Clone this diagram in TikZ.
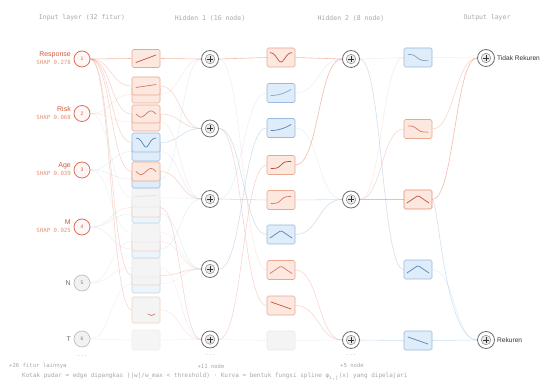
\documentclass[tikz,border=0pt]{standalone}
\usepackage{fontspec}
\setmainfont{Liberation Sans}
\newfontfamily\monofam{DejaVu Sans Mono}

% palette
\definecolor{ored}{HTML}{D5593B}
\definecolor{oshap}{HTML}{E59378}
\definecolor{oedge}{HTML}{E5876B}
\definecolor{bedge}{HTML}{8CB9E2}
\definecolor{ofill}{HTML}{FCE8DF}
\definecolor{odraw}{HTML}{E9A991}
\definecolor{bfill}{HTML}{DFECF9}
\definecolor{bdraw}{HTML}{98BADC}
\definecolor{ocurve}{HTML}{C4503A}
\definecolor{ocurvel}{HTML}{D47A62}
\definecolor{bcurve}{HTML}{5584B5}
\definecolor{gfill}{HTML}{F4F4F4}
\definecolor{gdraw}{HTML}{EAEAEA}
\definecolor{hdrgray}{HTML}{A8A8A8}
\definecolor{ringgray}{HTML}{6F6F6F}
\definecolor{txtdark}{HTML}{333333}

\tikzset{
  lbl/.style={inner sep=0pt, font=\fontsize{7}{8}\selectfont},
  shap/.style={inner sep=0pt, font=\monofam\fontsize{5.7}{6}\selectfont, text=oshap},
  hdr/.style={inner sep=0pt, font=\monofam\fontsize{6.5}{7}\selectfont, text=hdrgray},
  note/.style={inner sep=0pt, font=\monofam\fontsize{5.6}{6}\selectfont, text=hdrgray},
  dots/.style={inner sep=0pt, font=\monofam\fontsize{5.5}{6}\selectfont, text=black!30},
  inode/.style={circle, inner sep=0pt, minimum size=16pt, line width=0.8pt,
    draw=ored!85, fill=ored!4, text=ored, font=\fontsize{5}{5}\selectfont},
  gnode/.style={circle, inner sep=0pt, minimum size=16pt, line width=0.7pt,
    draw=black!25, fill=black!5, text=black!50, font=\fontsize{5}{5}\selectfont},
  hnode/.style={circle, inner sep=0pt, minimum size=17pt, line width=0.8pt,
    draw=ringgray, fill=white},
  kbox/.style={rectangle, rounded corners=1.5pt, inner sep=0pt,
    minimum width=28pt, minimum height=19pt, line width=0.6pt},
  obox/.style={kbox, draw=odraw, fill=ofill},
  bbox/.style={kbox, draw=bdraw, fill=bfill},
  fobox/.style={kbox, draw=odraw!55, fill=gfill},
  fbbox/.style={kbox, draw=bdraw!60, fill=bfill!55},
  fgbox/.style={kbox, draw=gdraw, fill=gfill},
  eoS/.style={draw=oedge, line width=0.6pt, draw opacity=0.55},
  eo/.style={draw=oedge, line width=0.55pt, draw opacity=0.34},
  eoF/.style={draw=oedge, line width=0.5pt, draw opacity=0.18},
  eb/.style={draw=bedge, line width=0.55pt, draw opacity=0.45},
  ebF/.style={draw=bedge, line width=0.5pt, draw opacity=0.22},
  eg/.style={draw=black!40, line width=0.5pt, draw opacity=0.13},
  kc/.style={line width=0.7pt, line cap=round, line join=round},
  % the summation mark inside a hidden/output node
  oplus/.pic={
    \fill[black!9] (0,0) circle (4.8pt);
    \draw[black!45, line width=0.5pt] (0,0) circle (4.8pt);
    \draw[black!80, line width=0.6pt] (-3,0) -- (3,0) (0,-3) -- (0,3);
  },
  % learned spline shapes, local box coordinates (y grows downward)
  crise/.pic={\draw[kc] (-10,4) -- (10,-3.5);},
  cslight/.pic={\draw[kc] (-10,1.5) -- (10,-1.5);},
  csine/.pic={\draw[kc] plot[smooth, domain=-10:10, samples=25] (\x,{-3*sin(\x*18)});},
  cdip/.pic={\draw[kc] plot[smooth, domain=-10:10, samples=25] (\x,{-4.5+9*exp(-(\x*\x)/22)});},
  cvalley/.pic={\draw[kc] plot[smooth, domain=-11:11, samples=25] (\x,{-5+9.5*exp(-(\x*\x)/30)});},
  csig/.pic={\draw[kc] plot[smooth, domain=-10:10, samples=25] (\x,{-3.5*tanh(\x/3.5)});},
  csigd/.pic={\draw[kc] plot[smooth, domain=-10:10, samples=25] (\x,{3.2*tanh((\x+1)/4)});},
  crisec/.pic={\draw[kc] plot[smooth, domain=-10:10, samples=25] (\x,{2.5-6*((\x+10)/20)*((\x+10)/20)});},
  ctent/.pic={\draw[kc, rounded corners=1.5pt] (-11,3.5) -- (0,-4) -- (11,3.5);},
  cdesc/.pic={\draw[kc] (-10,-3.5) -- (10,3.5);},
  cflat/.pic={\draw[kc] (-10,-1) -- (10,-2);},
  csmile/.pic={\draw[kc] (2,4) .. controls (4,6) and (7,6) .. (9,4);},
}

\newcommand\kedge[4][]{\draw[#1] (#2.east) .. controls +(#4,0) and +(-#4,0) .. (#3.west);}

\begin{document}
\begin{tikzpicture}[x=1pt, y=-1pt]
\fill[white] (0,0) rectangle (541,382);
\useasboundingbox (0,0) rectangle (541,382);

% ---------- column headers ----------
\node[hdr] (hin)  at (82,18)  {Input layer (32 fitur)};
\node[hdr] (hh1)  at (210,18) {Hidden 1 (16 node)};
\node[hdr] (hh2)  at (351,18) {Hidden 2 (8 node)};
\node[hdr] (hout) at (487,18) {Output layer};

% ---------- nodes (placed first so edges can refer to them) ----------
\node[inode] (i1) at (82,59)    {1};
\node[inode] (i2) at (82,113.5) {2};
\node[inode] (i3) at (82,170)   {3};
\node[inode] (i4) at (82,227)   {4};
\node[gnode] (i5) at (82,283)   {5};
\node[gnode] (i6) at (82,339)   {6};

\node[hnode] (h1) at (210,59)    {};
\node[hnode] (h2) at (210,128.5) {};
\node[hnode] (h3) at (210,199)   {};
\node[hnode] (h4) at (210,269)   {};
\node[hnode] (h5) at (210,339.5) {};

\node[hnode] (g1) at (351,59)    {};
\node[hnode] (g2) at (351,199.5) {};
\node[hnode] (g3) at (351,340)   {};

\node[hnode] (o1) at (486,58)  {};
\node[hnode] (o2) at (486,340) {};

% box anchors for the edges (boxes themselves are drawn later, on top)
\path
  (146,340)   coordinate (pt)  (146,310)   coordinate (ps)
  (146,284)   coordinate (pr)  (146,275.5) coordinate (pq)
  (146,267.5) coordinate (pp)  (146,249)   coordinate (po)
  (146,241.5) coordinate (pn)  (146,232.5) coordinate (pm)
  (146,214)   coordinate (pl)  (146,207.5) coordinate (pk)
  (146,197.5) coordinate (pj)  (146,179)   coordinate (pi)
  (146,171.5) coordinate (ph)  (146,151.5) coordinate (pg)
  (146,142.5) coordinate (pf)  (146,122)   coordinate (pe)
  (146,114)   coordinate (pd)  (146,94.5)  coordinate (pc)
  (146,86)    coordinate (pb)  (146,58.5)  coordinate (pa);

\node[kbox, draw=none, fill=none] (c1a) at (pa) {};
\node[kbox, draw=none, fill=none] (c1b) at (pb) {};
\node[kbox, draw=none, fill=none] (c1c) at (pc) {};
\node[kbox, draw=none, fill=none] (c1d) at (pd) {};
\node[kbox, draw=none, fill=none] (c1e) at (pe) {};
\node[kbox, draw=none, fill=none] (c1f) at (pf) {};
\node[kbox, draw=none, fill=none] (c1g) at (pg) {};
\node[kbox, draw=none, fill=none] (c1h) at (ph) {};
\node[kbox, draw=none, fill=none] (c1i) at (pi) {};
\node[kbox, draw=none, fill=none] (c1j) at (pj) {};
\node[kbox, draw=none, fill=none] (c1k) at (pk) {};
\node[kbox, draw=none, fill=none] (c1l) at (pl) {};
\node[kbox, draw=none, fill=none] (c1m) at (pm) {};
\node[kbox, draw=none, fill=none] (c1n) at (pn) {};
\node[kbox, draw=none, fill=none] (c1o) at (po) {};
\node[kbox, draw=none, fill=none] (c1p) at (pp) {};
\node[kbox, draw=none, fill=none] (c1q) at (pq) {};
\node[kbox, draw=none, fill=none] (c1r) at (pr) {};
\node[kbox, draw=none, fill=none] (c1s) at (ps) {};
\node[kbox, draw=none, fill=none] (c1t) at (pt) {};

\node[kbox, draw=none, fill=none] (c2a) at (281,57.5)  {};
\node[kbox, draw=none, fill=none] (c2b) at (281,93)    {};
\node[kbox, draw=none, fill=none] (c2c) at (281,128)   {};
\node[kbox, draw=none, fill=none] (c2d) at (281,165)   {};
\node[kbox, draw=none, fill=none] (c2e) at (281,200)   {};
\node[kbox, draw=none, fill=none] (c2f) at (281,234.5) {};
\node[kbox, draw=none, fill=none] (c2g) at (281,270)   {};
\node[kbox, draw=none, fill=none] (c2h) at (281,305.5) {};
\node[kbox, draw=none, fill=none] (c2i) at (281,340.5) {};

\node[kbox, draw=none, fill=none] (c3a) at (418,57.5)  {};
\node[kbox, draw=none, fill=none] (c3b) at (418,129)   {};
\node[kbox, draw=none, fill=none] (c3c) at (418,199.5) {};
\node[kbox, draw=none, fill=none] (c3d) at (418,269.5) {};
\node[kbox, draw=none, fill=none] (c3e) at (418,340.5) {};

% ---------- edges: input -> spline -> hidden 1 ----------
\kedge[eoS]{i1}{c1a}{21} \kedge[eoS]{c1a}{h1}{20}
\kedge[eo]{i1}{c1b}{21}  \kedge[eo]{c1b}{h2}{20}
\kedge[eoF]{i2}{c1c}{21} \kedge[eoF]{c1c}{h1}{20}
\kedge[eo]{i1}{c1d}{21}  \kedge[eo]{c1d}{h2}{20}
\kedge[eoF]{i2}{c1e}{21} \kedge[eoF]{c1e}{h3}{20}
\kedge[eo]{i1}{c1f}{21}  \kedge[eb]{c1f}{h2}{20}
\kedge[ebF]{i3}{c1g}{21} \kedge[ebF]{c1g}{h3}{20}
\kedge[eo]{i1}{c1h}{21}  \kedge[eo]{c1h}{h3}{20}
\kedge[ebF]{i3}{c1i}{21} \kedge[ebF]{c1i}{h1}{20}
\kedge[eg]{i2}{c1j}{21}  \kedge[eg]{c1j}{h3}{20}
\kedge[eoF]{i4}{c1k}{21} \kedge[eo]{c1k}{h5}{20}
\kedge[ebF]{i4}{c1l}{21} \kedge[ebF]{c1l}{h4}{20}
\kedge[eg]{i3}{c1m}{21}  \kedge[eg]{c1m}{h4}{20}
\kedge[eg]{i5}{c1n}{21}  \kedge[eoF]{c1n}{h4}{20}
\kedge[ebF]{i4}{c1o}{21} \kedge[ebF]{c1o}{h3}{20}
\kedge[eg]{i5}{c1p}{21}  \kedge[eg]{c1p}{h5}{20}
\kedge[eo]{i1}{c1q}{21}  \kedge[eo]{c1q}{h4}{20}
\kedge[eg]{i6}{c1r}{21}  \kedge[eg]{c1r}{h4}{20}
\kedge[eo]{i1}{c1s}{21}  \kedge[eoF]{c1s}{h5}{20}
\kedge[eg]{i6}{c1t}{21}  \kedge[eg]{c1t}{h5}{20}

% ---------- edges: hidden 1 -> spline -> hidden 2 ----------
\kedge[eoS]{h1}{c2a}{24} \kedge[eoS]{c2a}{g1}{24}
\kedge[ebF]{h3}{c2b}{24} \kedge[ebF]{c2b}{g1}{24}
\kedge[eb]{h4}{c2c}{24}  \kedge[ebF]{c2c}{g2}{24}
\kedge[eo]{h5}{c2d}{24}  \kedge[eoS]{c2d}{g1}{24}
\kedge[eb]{h3}{c2e}{24}  \kedge[eo]{c2e}{g2}{24}
\kedge[eb]{h2}{c2f}{24}  \kedge[eb]{c2f}{g2}{24}
\kedge[eoF]{h1}{c2g}{24} \kedge[eo]{c2g}{g3}{24}
\kedge[eo]{h2}{c2h}{24}  \kedge[eo]{c2h}{g3}{24}
\kedge[eg]{h5}{c2i}{24}  \kedge[eg]{c2i}{g3}{24}

% ---------- edges: hidden 2 -> spline -> output ----------
\kedge[ebF]{g1}{c3a}{22} \kedge[ebF]{c3a}{o1}{22}
\kedge[eoF]{g2}{c3a}{22}
\kedge[eo]{g2}{c3b}{22}  \kedge[eo]{c3b}{o1}{22}
\kedge[eoS]{g2}{c3c}{22} \kedge[eoS]{c3c}{o1}{22}
\kedge[eb]{g1}{c3d}{22}  \kedge[ebF]{c3d}{o2}{22}
\kedge[eb]{g3}{c3e}{22}  \kedge[eb]{c3e}{o2}{22}
\draw[eb] (c3c.east) .. controls +(6,0) and +(-32,0) .. (o2.west);

% ---------- spline boxes, first layer (stacked, lower ones first) ----------
\node[fgbox, minimum height=20pt, draw opacity=0.6, fill opacity=0.85] (b1t) at (pt) {};
\node[fobox, minimum height=26pt] (b1s) at (ps) {};
\pic[color=ocurvel] at (b1s) {csmile};
\node[fbbox, minimum height=18pt] (b1r) at (pr) {};
\node[fobox] (b1q) at (pq) {};
\node[fgbox] (b1p) at (pp) {};
\node[fbbox, minimum height=18pt] (b1o) at (po) {};
\node[fobox] (b1n) at (pn) {};
\node[fgbox] (b1m) at (pm) {};
\node[fbbox, minimum height=18pt] (b1l) at (pl) {};
\node[fobox] (b1k) at (pk) {};
\node[fgbox] (b1j) at (pj) {};
\pic[color=black!12] at (b1j) {cflat};
\node[bbox, minimum height=18pt] (b1i) at (pi) {};
\node[obox] (b1h) at (ph) {};
\pic[color=ocurvel] at (b1h) {csine};
\node[bbox] (b1g) at (pg) {};
\node[bbox] (b1f) at (pf) {};
\pic[color=bcurve] at (b1f) {cdip};
\node[obox, minimum height=18pt] (b1e) at (pe) {};
\node[obox, minimum height=18pt] (b1d) at (pd) {};
\pic[color=ocurvel] at (b1d) {csine};
\node[obox, minimum height=17pt] (b1c) at (pc) {};
\node[obox, minimum height=18pt] (b1b) at (pb) {};
\pic[color=ocurvel] at (b1b) {cslight};
\node[obox, minimum height=18pt] (b1a) at (pa) {};
\pic[color=ocurve] at (b1a) {crise};

% ---------- spline boxes, second layer ----------
\node[obox] (b2a) at (c2a) {}; \pic[color=ocurve] at (b2a) {cvalley};
\node[bbox] (b2b) at (c2b) {}; \pic[color=bcurve!70] at (b2b) {crisec};
\node[bbox] (b2c) at (c2c) {}; \pic[color=bcurve] at (b2c) {crisec};
\node[obox] (b2d) at (c2d) {}; \pic[color=ocurve!90!black] at (b2d) {csig};
\node[obox] (b2e) at (c2e) {}; \pic[color=ocurvel] at (b2e) {csig};
\node[bbox] (b2f) at (c2f) {}; \pic[color=bcurve] at (b2f) {ctent};
\node[obox] (b2g) at (c2g) {}; \pic[color=ocurvel] at (b2g) {ctent};
\node[obox] (b2h) at (c2h) {}; \pic[color=ocurve] at (b2h) {cdesc};
\node[fgbox] (b2i) at (c2i) {};

% ---------- spline boxes, third layer ----------
\node[bbox] (b3a) at (c3a) {}; \pic[color=bcurve!75] at (b3a) {csigd};
\node[obox] (b3b) at (c3b) {}; \pic[color=ocurvel] at (b3b) {csigd};
\node[obox, draw=ored!70] (b3c) at (c3c) {}; \pic[color=ocurve] at (b3c) {ctent};
\node[bbox] (b3d) at (c3d) {}; \pic[color=bcurve] at (b3d) {ctent};
\node[bbox] (b3e) at (c3e) {}; \pic[color=bcurve] at (b3e) {cdesc};

% ---------- summation marks ----------
\foreach \n in {h1,h2,h3,h4,h5,g1,g2,g3,o1,o2} { \pic at (\n) {oplus}; }

% ---------- input labels ----------
\node[lbl, anchor=east, text=ored] (lr) at (71,54.5) {Response};
\node[shap, anchor=east] (sr) at (71,62.5) {SHAP 0.278};
\node[lbl, anchor=east, text=ored] (lk) at (71,109) {Risk};
\node[shap, anchor=east] (sk) at (71,117) {SHAP 0.068};
\node[lbl, anchor=east, text=ored] (la) at (71,165.5) {Age};
\node[shap, anchor=east] (sa) at (71,173.5) {SHAP 0.039};
\node[lbl, anchor=east, text=ored] (lm) at (71,222.5) {M};
\node[shap, anchor=east] (sm) at (71,230.5) {SHAP 0.025};
\node[lbl, anchor=east, text=black!55] (ln) at (71,283) {N};
\node[lbl, anchor=east, text=black!55] (lt) at (71,339) {T};

% ---------- output labels ----------
\node[lbl, anchor=west, text=txtdark, font=\fontsize{6.6}{8}\selectfont] (lo1) at (497,58) {Tidak Rekuren};
\node[lbl, anchor=west, text=txtdark, font=\fontsize{6.6}{8}\selectfont] (lo2) at (497,340) {Rekuren};

% ---------- elision marks and notes ----------
\node[dots] (d1) at (82,356.5)  {...};
\node[dots] (d2) at (210,355.5) {...};
\node[dots] (d3) at (351,355)   {...};
\node[note, anchor=west] (n1) at (9,366) {+26 fitur lainnya};
\node[note] (n2) at (211,366) {+11 node};
\node[note] (n3) at (352,365.5) {+5 node};
\node[note, anchor=west, font=\monofam\fontsize{6}{7}\selectfont] (cap) at (22,377)
  {Kotak pudar = edge dipangkas (|w|/w\_max < threshold) · Kurva = bentuk fungsi spline φ\textsubscript{i,j}(x) yang dipelajari};
\end{tikzpicture}
\end{document}
